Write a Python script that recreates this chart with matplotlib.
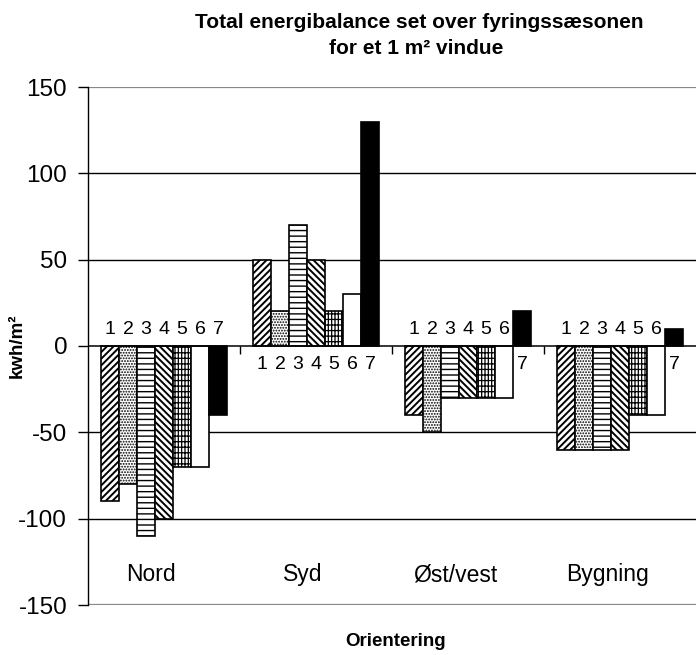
import numpy as np
import matplotlib
matplotlib.use('Agg')
import matplotlib.pyplot as plt

plt.rcParams['font.family'] = ['Liberation Sans', 'DejaVu Sans']

categories = ['Nord', 'Syd', 'Øst/vest', 'Bygning']
series_names = ['1', '2', '3', '4', '5', '6', '7']
nord = [-90, -80, -110, -100, -70, -70, -40]
syd = [50, 20, 70, 50, 20, 30, 130]
oest_vest = [-40, -50, -30, -30, -30, -30, 20]
bygning = [-60, -60, -60, -60, -40, -40, 10]
yticks = [150, 100, 50, 0, -50, -100, -150]

vals = np.array([nord, syd, oest_vest, bygning])  # [cat, series]
hatches = ['/////', '......', '---', '\\\\\\\\\\', '---|||||', '', '']
hatch_lw = [1.4, 0.9, 1.0, 1.4, 0.9, 1.0, 1.0]
faces = ['white', 'white', 'white', 'white', 'white', 'white', 'black']

fig = plt.figure(figsize=(6.96, 6.55), dpi=100)
ax = fig.add_axes([88/696, 1-605/655, 1-88/696, (605-87)/655])

w = 0.1184
xc = np.arange(len(categories))
for s in range(len(series_names)):
    xs = xc + (s - 3) * w
    with plt.rc_context({'hatch.linewidth': hatch_lw[s]}):
        ax.bar(xs, vals[:, s], w, color=faces[s], edgecolor='black', hatch=hatches[s], lw=1.2, zorder=2)
    for c in range(len(categories)):
        v = vals[c, s]
        ty = 9.8 if v < 0 else -11
        ax.text(xs[c], ty, series_names[s], ha='center', va='center', fontsize=14, zorder=4,
                bbox=dict(facecolor='white', edgecolor='none', pad=0.3))

for g in [100, 50, -50, -100]:
    ax.axhline(g, color='black', lw=1.0, zorder=0)
for g in [150, -150]:
    ax.axhline(g, color='#888888', lw=1.6, zorder=0)
ax.axhline(0, color='black', lw=1.1, zorder=3)

# category names sit a little left of the bar groups
for c, name in enumerate(categories):
    ax.text(c - 0.085, -132.6, name, ha='center', va='center', fontsize=16.5)

ax.set_xlim(-0.5, 3.5); ax.set_ylim(-150, 150)
ax.set_yticks(yticks); ax.set_yticklabels([str(t) for t in yticks], fontsize=17.5)
ax.tick_params(axis='y', direction='out', length=7, width=1.0, pad=8)
ax.spines['bottom'].set_visible(False)
for sp in ['top', 'right']: ax.spines[sp].set_visible(False)
ax.spines['left'].set_linewidth(1.0)
ax.set_xticks([0.5, 1.5, 2.5]); ax.set_xticklabels([])
ax.tick_params(axis='x', direction='out', length=6, width=1.0)

# x tick marks sit on the zero line, pointing down
for t in ax.xaxis.get_major_ticks():
    t.tick1line.set_ydata([0.5])

fig.text(419/696, 1-23/655, 'Total energibalance set over fyringssæsonen', ha='center', va='center', fontsize=15, fontweight='bold')
fig.text(416/696, 1-48/655, 'for et 1 m² vindue', ha='center', va='center', fontsize=15, fontweight='bold')
fig.text(396/696, 1-641/655, 'Orientering', ha='center', va='center', fontsize=13.5, fontweight='bold')
fig.text(17/696, 1-346/655, 'kwh/m²', ha='center', va='center', fontsize=13.5, fontweight='bold', rotation=90)

plt.savefig('out.png', dpi=100)
